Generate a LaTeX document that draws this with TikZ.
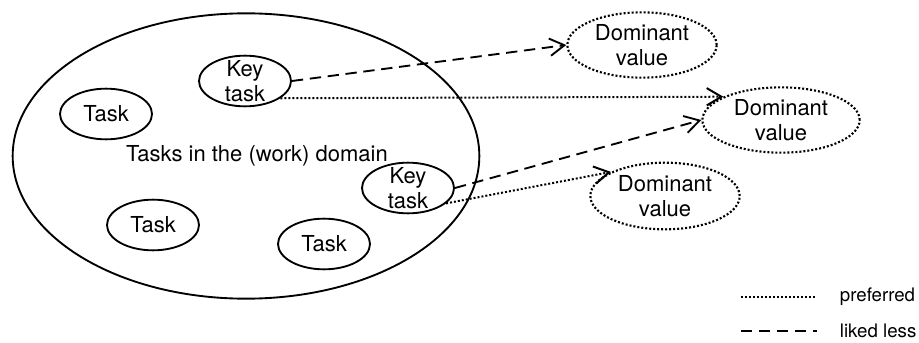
\documentclass[tikz,border=0pt]{standalone}
\usepackage{fontspec}
\setmainfont{TeX Gyre Heros}
\usetikzlibrary{positioning,arrows.meta,shapes.geometric}

\begin{document}
\begin{tikzpicture}[
  x=0.75pt, y=-0.75pt,
  every node/.style={align=center, font=\fontsize{16.5}{19}\selectfont, inner sep=0pt},
  workarea/.style={ellipse, draw, line width=1.4pt, minimum width=350pt, minimum height=214pt},
  task/.style={ellipse, draw, line width=1.4pt, minimum width=69pt, minimum height=38pt},
  domval/.style={ellipse, draw, line width=1.6pt, dash pattern=on 1.5pt off 1.5pt, minimum width=112pt, minimum height=49pt},
  pref/.style={line width=1.5pt, dash pattern=on 1.5pt off 1.5pt},
  less/.style={line width=1.4pt, dash pattern=on 8.5pt off 5pt},
  arr/.style={-{Straight Barb[length=11pt,width=13pt]}},
  legtext/.style={font=\fontsize{14}{16}\selectfont, anchor=west}
]
\useasboundingbox (0,0) rectangle (919,342);
% The work domain and its tasks
\node[workarea] (work) at (246,156) {};
\node (work text) at (257,156) {Tasks in the (work) domain};
\node[task] (task1) at (106,114) {Task};
\node[task] (task2) at (153,225) {Task};
\node[task] (task3) at (324,244) {Task};
\node[task, label=center:{Key\\task}] (key1) at (245,81) {};
\node[task, label=center:{Key\\task}] (key2) at (408,188) {};
% Dominant values
\node[domval, label=center:{Dominant\\value}] (dv1) at (642,45) {};
\node[domval, minimum width=118pt, label=center:{Dominant\\value}] (dv2) at (781,120) {};
\node[domval, minimum height=50pt, label=center:{Dominant\\value}] (dv3) at (665,196) {};
% Arrows
\draw[less, arr] (key1.east) -- (dv1.west);
\draw[pref, arr] (key1.-26) -- (dv2.158);
\draw[less, arr] (key2.east) -- (dv2.west);
\draw[pref, arr] (key2.-22) -- (dv3.156);
% Legend
\coordinate (pref a) at (741,297);
\coordinate (pref b) at (817,297);
\coordinate (less a) at (741,331);
\coordinate (less b) at (817,331);
\draw[pref] (pref a) -- (pref b);
\draw[less] (less a) -- (less b);
\node[legtext, right=17pt of pref b] (pref text) {preferred};
\node[legtext, right=17pt of less b] (less text) {liked less};
\end{tikzpicture}
\end{document}
